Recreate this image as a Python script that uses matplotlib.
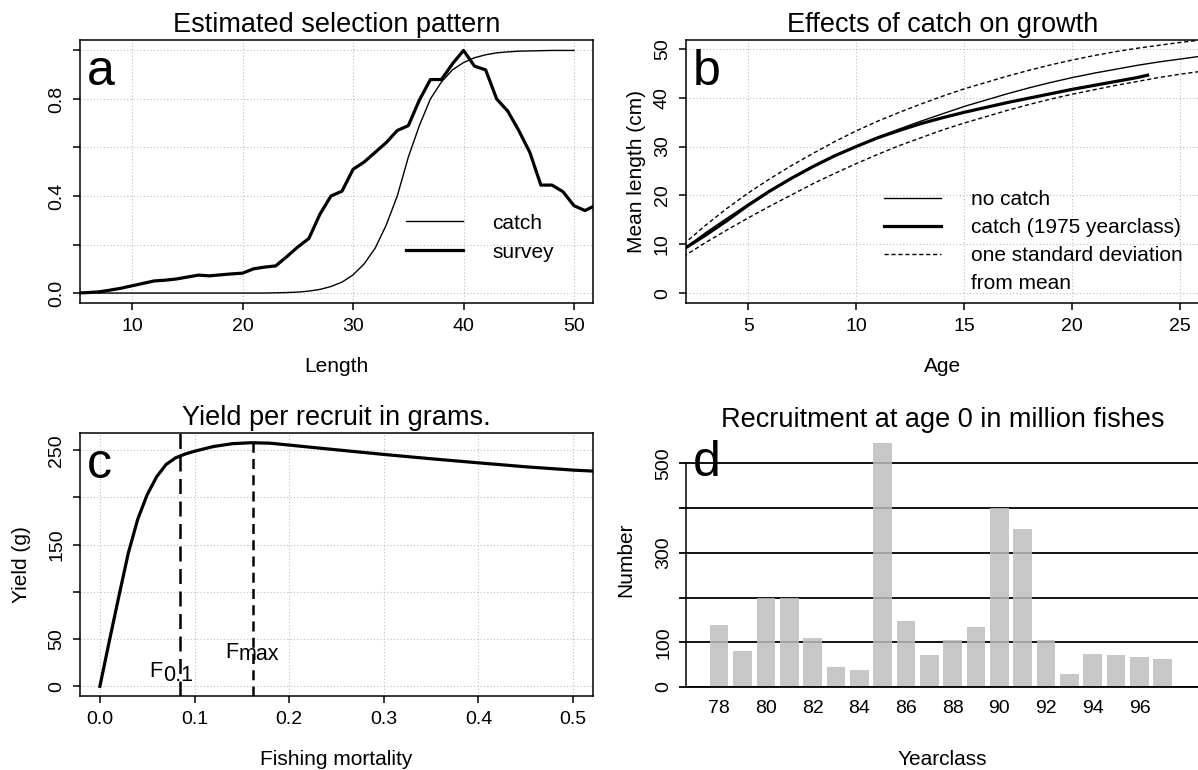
import matplotlib
matplotlib.use('Agg')
import matplotlib.pyplot as plt
from matplotlib.lines import Line2D

plt.rcParams['font.family'] = ['Liberation Sans', 'DejaVu Sans']
plt.rcParams['axes.linewidth'] = 1.1

# a - selection pattern
sel_length = list(range(5, 53))
survey_sel = [0.0, 0.002, 0.005, 0.012, 0.02, 0.03, 0.04, 0.05, 0.053, 0.058,
              0.066, 0.074, 0.071, 0.075, 0.079, 0.082, 0.10, 0.107, 0.112, 0.15,
              0.19, 0.225, 0.325, 0.40, 0.42, 0.51, 0.54, 0.58, 0.62, 0.67,
              0.69, 0.795, 0.88, 0.88, 0.945, 1.0, 0.935, 0.92, 0.80, 0.75,
              0.67, 0.58, 0.445, 0.445, 0.418, 0.36, 0.34, 0.363]
catch_length = list(range(5, 51))
catch_sel = [0.0] * 18 + [0.001, 0.002, 0.004, 0.008, 0.015, 0.027, 0.045, 0.075,
                          0.12, 0.185, 0.28, 0.40, 0.56, 0.69, 0.80, 0.87, 0.92,
                          0.95, 0.97, 0.982, 0.99, 0.994, 0.997, 0.998, 0.999,
                          1.0, 1.0, 1.0]

# b - growth
age = list(range(2, 27))
len_nocatch = [9.0, 12.3, 15.3, 18.2, 21.0, 23.6, 26.0, 28.1, 30.0, 31.9, 33.6,
               35.2, 36.7, 38.2, 39.5, 40.8, 42.0, 43.1, 44.1, 45.0, 45.8, 46.6,
               47.3, 47.9, 48.5]
len_upper = [10.0, 13.8, 17.3, 20.5, 23.4, 26.1, 28.6, 31.0, 33.2, 35.2, 37.0,
             38.7, 40.3, 41.8, 43.1, 44.4, 45.6, 46.7, 47.7, 48.6, 49.4, 50.1,
             50.7, 51.3, 51.8]
len_lower = [7.5, 10.3, 12.9, 15.4, 17.8, 20.1, 22.4, 24.5, 26.5, 28.4, 30.2,
             31.8, 33.4, 34.8, 36.1, 37.4, 38.6, 39.7, 40.7, 41.6, 42.5, 43.3,
             44.1, 44.8, 45.4]
age_catch = list(range(2, 24)) + [23.5]
len_catch = [9.0, 11.8, 14.8, 18.0, 20.9, 23.5, 25.9, 28.1, 30.0, 31.8, 33.3,
             34.7, 35.9, 37.0, 38.0, 39.0, 39.9, 40.8, 41.7, 42.5, 43.3, 44.1, 44.6]

# c - yield per recruit
fmort = [0, 0.01, 0.02, 0.03, 0.04, 0.05, 0.06, 0.07, 0.08, 0.09, 0.10, 0.12,
         0.14, 0.16, 0.18, 0.20, 0.25, 0.30, 0.35, 0.40, 0.45, 0.50, 0.52]
yield_g = [0, 48, 95, 141, 177, 203, 222, 235, 242, 246, 249, 254, 257, 258,
           257.5, 255.5, 250.5, 245.6, 241, 236.7, 232.5, 229, 228]
f01 = 0.0845
fmax = 0.162

# d - recruitment
yearclass = list(range(78, 98))
recruits = [138, 80, 200, 200, 110, 45, 37, 545, 147, 71, 106, 135, 400, 353,
            106, 28, 73, 71, 66, 62]


def r_style(ax):
    ax.grid(True, color='#bdbdbd', lw=0.8, ls=(0, (1, 2)))
    ax.tick_params(direction='out', length=4.8, width=1.1, labelsize=14, pad=6)
    ax.tick_params(axis='y', labelrotation=90)
    for lab in ax.get_yticklabels():
        lab.set_va('center')


def panel_letter(ax, s):
    ax.text(0.013, 0.829, s, transform=ax.transAxes, fontsize=36, va='baseline', ha='left')


fig = plt.figure(figsize=(11.98, 7.70), dpi=100)
ax_a = fig.add_axes([0.06678, 0.60649, 0.42821, 0.34156])
ax_b = fig.add_axes([0.57262, 0.60649, 0.42821, 0.34156])
ax_c = fig.add_axes([0.06678, 0.0961, 0.42821, 0.34156])
ax_d = fig.add_axes([0.57262, 0.10779, 0.42821, 0.32987])

# a
ax_a.plot(catch_length, catch_sel, color='black', lw=1.0, label='catch')
ax_a.plot(sel_length, survey_sel, color='black', lw=2.3, label='survey')
ax_a.set_xlim(5.28, 51.72)
ax_a.set_ylim(-0.041, 1.043)
ax_a.set_xticks([10, 20, 30, 40, 50])
ax_a.set_yticks([0, 0.2, 0.4, 0.6, 0.8, 1.0])
ax_a.set_yticklabels(['0.0', '', '0.4', '', '0.8', ''])
r_style(ax_a)
ax_a.set_xlabel('Length', fontsize=15, labelpad=16)
ax_a.set_title('Estimated selection pattern', fontsize=19.5, pad=6)
ax_a.legend(loc='upper left', bbox_to_anchor=(0.635, 0.34), frameon=False,
            borderpad=0, borderaxespad=0, handlelength=2.77, handletextpad=1.37,
            labelspacing=0.48, fontsize=15)
panel_letter(ax_a, 'a')

# b
ax_b.plot(age, len_nocatch, color='black', lw=1.0)
ax_b.plot(age_catch, len_catch, color='black', lw=2.3)
ax_b.plot(age, len_upper, color='black', lw=1.0, ls=(0, (3, 2)))
ax_b.plot(age, len_lower, color='black', lw=1.0, ls=(0, (3, 2)))
ax_b.set_xlim(2.12, 25.88)
ax_b.set_ylim(-2.0, 51.8)
ax_b.set_xticks([5, 10, 15, 20, 25])
ax_b.set_yticks([0, 10, 20, 30, 40, 50])
r_style(ax_b)
ax_b.set_xlabel('Age', fontsize=15, labelpad=16)
ax_b.set_ylabel('Mean length (cm)', fontsize=15, labelpad=6)
ax_b.set_title('Effects of catch on growth', fontsize=19.5, pad=6)
handles_b = [Line2D([], [], color='black', lw=1.0),
             Line2D([], [], color='black', lw=2.3),
             Line2D([], [], color='black', lw=1.0, ls=(0, (3, 2))),
             Line2D([], [], color='none')]
labels_b = ['no catch', 'catch (1975 yearclass)', 'one standard deviation', 'from mean']
ax_b.legend(handles_b, labels_b, loc='upper left', bbox_to_anchor=(0.385, 0.43),
            frameon=False, borderpad=0, borderaxespad=0, handlelength=2.76,
            handletextpad=1.44, labelspacing=0.43, fontsize=15)
panel_letter(ax_b, 'b')

# c
ax_c.plot(fmort, yield_g, color='black', lw=2.3)
ax_c.set_xlim(-0.021, 0.521)
ax_c.set_ylim(-10.3, 268.3)
ax_c.axvline(f01, color='black', lw=1.8, ls=(0, (6, 3)))
ax_c.vlines(fmax, -10.3, max(yield_g), color='black', lw=1.8, ls=(0, (4, 2.5)))
ax_c.set_xticks([0, 0.1, 0.2, 0.3, 0.4, 0.5])
ax_c.set_xticklabels(['0.0', '0.1', '0.2', '0.3', '0.4', '0.5'])
ax_c.set_yticks([0, 50, 100, 150, 200, 250])
ax_c.set_yticklabels(['0', '50', '', '150', '', '250'])
r_style(ax_c)
ax_c.text(0.0523, 9.5, 'F', fontsize=15.5, va='baseline')
ax_c.text(0.0665, 6, '0.1', fontsize=15.5, va='baseline')
ax_c.text(0.132, 30, 'F', fontsize=15.5, va='baseline')
ax_c.text(0.1462, 28, 'max', fontsize=15.5, va='baseline')
ax_c.set_xlabel('Fishing mortality', fontsize=15, labelpad=16)
ax_c.set_ylabel('Yield (g)', fontsize=15, labelpad=12)
ax_c.set_title('Yield per recruit in grams.', fontsize=19.5, pad=6)
panel_letter(ax_c, 'c')

# d
ax_d.bar(yearclass, recruits, width=0.8, color=(0.74, 0.74, 0.74), alpha=0.85,
         lw=0, zorder=2)
ax_d.set_xlim(76.58, 98.55)
ax_d.set_ylim(0, 567.7)
ax_d.set_yticks([0, 100, 200, 300, 400, 500])
ax_d.set_yticklabels(['0', '100', '', '300', '', '500'])
ax_d.set_xticks(range(78, 97, 2))
ax_d.yaxis.grid(True, color='black', lw=1.3, ls='-', zorder=1)
ax_d.set_axisbelow(True)
ax_d.spines['top'].set_visible(False)
ax_d.spines['right'].set_visible(False)
ax_d.spines['left'].set_bounds(0, 500)
ax_d.spines['bottom'].set_linewidth(1.3)
ax_d.tick_params(axis='y', direction='out', length=5, width=1.3, labelsize=14,
                 pad=5, labelrotation=90)
ax_d.tick_params(axis='x', length=0, labelsize=14, pad=9)
for lab in ax_d.get_yticklabels():
    lab.set_va('center')
ax_d.set_xlabel('Yearclass', fontsize=15, labelpad=24)
ax_d.set_ylabel('Number', fontsize=15, labelpad=14)
ax_d.set_title('Recruitment at age 0 in million fishes', fontsize=19.5, pad=4)
panel_letter(ax_d, 'd')

fig.savefig('out.png', dpi=100)
